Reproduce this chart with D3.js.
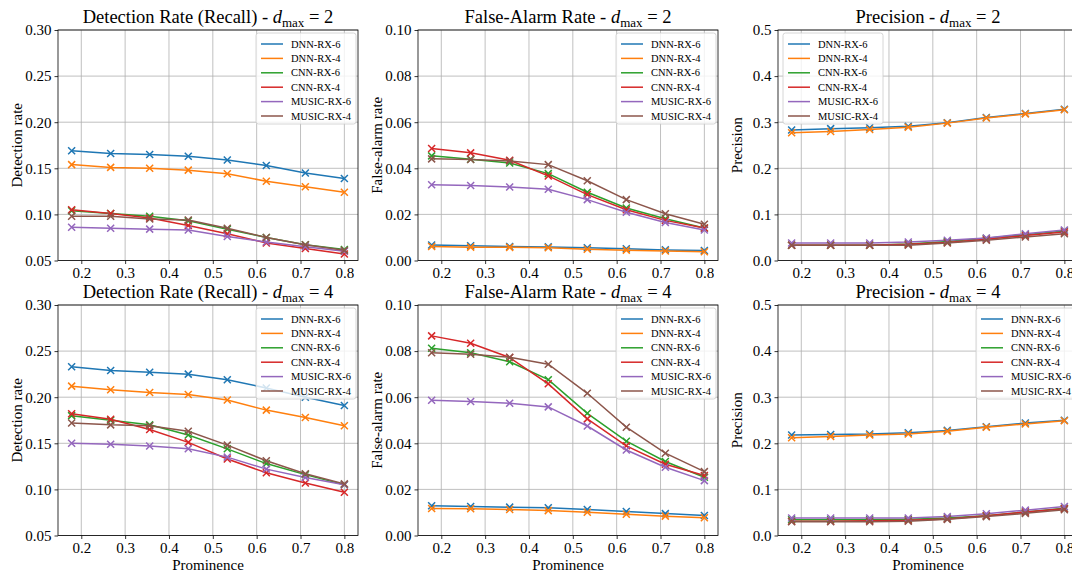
<!DOCTYPE html>
<html>
<head>
<meta charset="utf-8">
<script src="https://d3js.org/d3.v7.min.js"></script>
<style>
  body { margin: 0; background: #fff; }
  text { font-family: "Liberation Serif", "DejaVu Serif", serif; fill: #000; }
</style>
</head>
<body>
<svg id="chart" width="1072" height="571"></svg>
<script>
// x values (prominence) shared by every panel
const prominence = [0.178, 0.267, 0.356, 0.444, 0.533, 0.622, 0.711, 0.8];
const seriesNames = ['DNN-RX-6', 'DNN-RX-4', 'CNN-RX-6', 'CNN-RX-4', 'MUSIC-RX-6', 'MUSIC-RX-4'];
const seriesColors = ['#1f77b4', '#ff7f0e', '#2ca02c', '#d62728', '#9467bd', '#8c564b'];

// one row per series, same order as seriesNames
const detRate2 = [
  [0.169, 0.166, 0.165, 0.163, 0.159, 0.153, 0.145, 0.139],
  [0.154, 0.151, 0.150, 0.148, 0.144, 0.136, 0.130, 0.124],
  [0.104, 0.101, 0.098, 0.093, 0.084, 0.075, 0.067, 0.062],
  [0.105, 0.101, 0.096, 0.088, 0.079, 0.069, 0.063, 0.057],
  [0.086, 0.085, 0.084, 0.083, 0.076, 0.070, 0.065, 0.060],
  [0.098, 0.098, 0.095, 0.094, 0.085, 0.075, 0.067, 0.061]
];
const farRate2 = [
  [0.0067, 0.0064, 0.0061, 0.0059, 0.0055, 0.0051, 0.0046, 0.0043],
  [0.0061, 0.0058, 0.0057, 0.0055, 0.0049, 0.0045, 0.0041, 0.0038],
  [0.0454, 0.0439, 0.0423, 0.0377, 0.0296, 0.0228, 0.0181, 0.0141],
  [0.0486, 0.0467, 0.0435, 0.0367, 0.0286, 0.0220, 0.0174, 0.0141],
  [0.0329, 0.0325, 0.0319, 0.0309, 0.0264, 0.0209, 0.0165, 0.0132],
  [0.0441, 0.0438, 0.0432, 0.0416, 0.0346, 0.0264, 0.0203, 0.0157]
];
const precision2 = [
  [0.283, 0.286, 0.288, 0.291, 0.299, 0.310, 0.319, 0.328],
  [0.277, 0.280, 0.284, 0.289, 0.298, 0.309, 0.318, 0.327],
  [0.033, 0.033, 0.033, 0.036, 0.041, 0.048, 0.056, 0.064],
  [0.033, 0.033, 0.033, 0.035, 0.039, 0.046, 0.054, 0.062],
  [0.038, 0.038, 0.038, 0.040, 0.044, 0.049, 0.058, 0.066],
  [0.033, 0.033, 0.033, 0.033, 0.038, 0.044, 0.051, 0.058]
];
const detRate4 = [
  [0.233, 0.229, 0.227, 0.225, 0.219, 0.210, 0.200, 0.191],
  [0.212, 0.208, 0.205, 0.203, 0.197, 0.186, 0.178, 0.169],
  [0.180, 0.175, 0.170, 0.159, 0.144, 0.128, 0.116, 0.105],
  [0.182, 0.176, 0.165, 0.151, 0.133, 0.118, 0.107, 0.097],
  [0.150, 0.149, 0.147, 0.144, 0.135, 0.122, 0.113, 0.105],
  [0.172, 0.170, 0.169, 0.163, 0.148, 0.131, 0.117, 0.106]
];
const farRate4 = [
  [0.0129, 0.0126, 0.0123, 0.0120, 0.0113, 0.0104, 0.0095, 0.0087],
  [0.0117, 0.0116, 0.0113, 0.0108, 0.0101, 0.0092, 0.0084, 0.0077],
  [0.0812, 0.0793, 0.0754, 0.0676, 0.0530, 0.0409, 0.0321, 0.0253],
  [0.0866, 0.0834, 0.0772, 0.0658, 0.0506, 0.0389, 0.0309, 0.0260],
  [0.0587, 0.0581, 0.0574, 0.0558, 0.0475, 0.0371, 0.0296, 0.0238],
  [0.0793, 0.0786, 0.0773, 0.0743, 0.0617, 0.0470, 0.0357, 0.0277]
];
const precision4 = [
  [0.218, 0.219, 0.220, 0.223, 0.228, 0.236, 0.244, 0.250],
  [0.212, 0.215, 0.218, 0.220, 0.226, 0.235, 0.242, 0.249],
  [0.034, 0.034, 0.034, 0.035, 0.038, 0.043, 0.051, 0.059],
  [0.031, 0.031, 0.032, 0.033, 0.036, 0.043, 0.051, 0.058],
  [0.038, 0.038, 0.038, 0.038, 0.041, 0.047, 0.055, 0.063],
  [0.030, 0.030, 0.030, 0.031, 0.035, 0.041, 0.048, 0.056]
];

const detTicks = [0.05, 0.10, 0.15, 0.20, 0.25, 0.30];
const farTicks = [0.00, 0.02, 0.04, 0.06, 0.08, 0.10];
const precTicks = [0.0, 0.1, 0.2, 0.3, 0.4, 0.5];
const xTicks = [0.2, 0.3, 0.4, 0.5, 0.6, 0.7, 0.8];

const panels = [
  { title: 'Detection Rate (Recall) - ', d: '2', ylabel: 'Detection rate', data: detRate2, ticks: detTicks, fmt: '.2f', col: 0, row: 0, legend: 'right' },
  { title: 'False-Alarm Rate - ', d: '2', ylabel: 'False-alarm rate', data: farRate2, ticks: farTicks, fmt: '.2f', col: 1, row: 0, legend: 'right' },
  { title: 'Precision - ', d: '2', ylabel: 'Precision', data: precision2, ticks: precTicks, fmt: '.1f', col: 2, row: 0, legend: 'left' },
  { title: 'Detection Rate (Recall) - ', d: '4', ylabel: 'Detection rate', data: detRate4, ticks: detTicks, fmt: '.2f', col: 0, row: 1, legend: 'right' },
  { title: 'False-Alarm Rate - ', d: '4', ylabel: 'False-alarm rate', data: farRate4, ticks: farTicks, fmt: '.2f', col: 1, row: 1, legend: 'right' },
  { title: 'Precision - ', d: '4', ylabel: 'Precision', data: precision4, ticks: precTicks, fmt: '.1f', col: 2, row: 1, legend: 'right' }
];

const svg = d3.select('#chart');
const colLeft = [58, 418, 778];
const rowTop = [30, 305];
const width = 300, height = 230.5;

panels.forEach(p => {
  const g = svg.append('g').attr('transform', `translate(${colLeft[p.col]},${rowTop[p.row]})`);

  const x = d3.scaleLinear().domain([0.1469, 0.8311]).range([0, width]);
  const y = d3.scaleLinear().domain([p.ticks[0], p.ticks[p.ticks.length - 1]]).range([height, 0]);

  // grid
  g.append('g').selectAll('line.gx').data(xTicks).enter().append('line')
    .attr('x1', d => x(d)).attr('x2', d => x(d)).attr('y1', 0).attr('y2', height)
    .attr('stroke', '#b0b0b0').attr('stroke-width', 0.8);
  g.append('g').selectAll('line.gy').data(p.ticks).enter().append('line')
    .attr('x1', 0).attr('x2', width).attr('y1', d => y(d)).attr('y2', d => y(d))
    .attr('stroke', '#b0b0b0').attr('stroke-width', 0.8);

  // series
  const line = d3.line().x((d, i) => x(prominence[i])).y(d => y(d));
  p.data.forEach((vals, si) => {
    g.append('path').datum(vals).attr('d', line)
      .attr('fill', 'none').attr('stroke', seriesColors[si]).attr('stroke-width', 1.5);
    g.selectAll(null).data(vals).enter().append('path')
      .attr('d', (d, i) => {
        const cx = x(prominence[i]), cy = y(d), r = 3.5;
        return `M${cx - r},${cy - r}L${cx + r},${cy + r}M${cx - r},${cy + r}L${cx + r},${cy - r}`;
      })
      .attr('stroke', seriesColors[si]).attr('stroke-width', 1.5).attr('fill', 'none');
  });

  // axes
  const xAxis = g.append('g').attr('transform', `translate(0,${height})`)
    .call(d3.axisBottom(x).tickValues(xTicks).tickFormat(d3.format('.1f')).tickSize(3.5).tickPadding(3));
  const yAxis = g.append('g')
    .call(d3.axisLeft(y).tickValues(p.ticks).tickFormat(d3.format(p.fmt)).tickSize(3.5).tickPadding(3));
  [xAxis, yAxis].forEach(a => {
    a.attr('font-family', null).attr('font-size', null);
    a.select('.domain').remove();
    a.selectAll('.tick line').attr('stroke', '#000').attr('stroke-width', 0.8);
    a.selectAll('.tick text').style('font-size', '15px');
  });

  // spines
  g.append('rect').attr('width', width).attr('height', height)
    .attr('fill', 'none').attr('stroke', '#000').attr('stroke-width', 0.8);

  // title
  const t = g.append('text').attr('x', width / 2).attr('y', -7)
    .attr('text-anchor', 'middle').style('font-size', '18.5px');
  t.append('tspan').text(p.title);
  t.append('tspan').style('font-style', 'italic').text('d');
  t.append('tspan').attr('dy', 3.5).style('font-size', '13px').text('max');
  t.append('tspan').attr('dy', -3.5).text(' = ' + p.d);

  // axis labels
  g.append('text').attr('transform', `translate(${-36},${height / 2}) rotate(-90)`)
    .attr('text-anchor', 'middle').style('font-size', '15px').text(p.ylabel);
  if (p.row === 1) {
    g.append('text').attr('x', width / 2).attr('y', height + 34)
      .attr('text-anchor', 'middle').style('font-size', '15px').text('Prominence');
  }

  // legend
  const lw = 100, lh = 91;
  const lx = p.legend === 'right' ? width - lw - 2 : 5;
  const lg = g.append('g').attr('transform', `translate(${lx},3)`);
  lg.append('rect').attr('width', lw).attr('height', lh).attr('rx', 2.5)
    .attr('fill', '#fff').attr('fill-opacity', 0.8).attr('stroke', '#cccccc').attr('stroke-width', 0.8);
  seriesNames.forEach((name, i) => {
    const yy = 11 + i * 14.4;
    lg.append('line').attr('x1', 5).attr('x2', 27).attr('y1', yy).attr('y2', yy)
      .attr('stroke', seriesColors[i]).attr('stroke-width', 1.5);
    lg.append('text').attr('x', 35).attr('y', yy + 3.6).style('font-size', '10.5px').text(name);
  });
});
</script>
</body>
</html>
